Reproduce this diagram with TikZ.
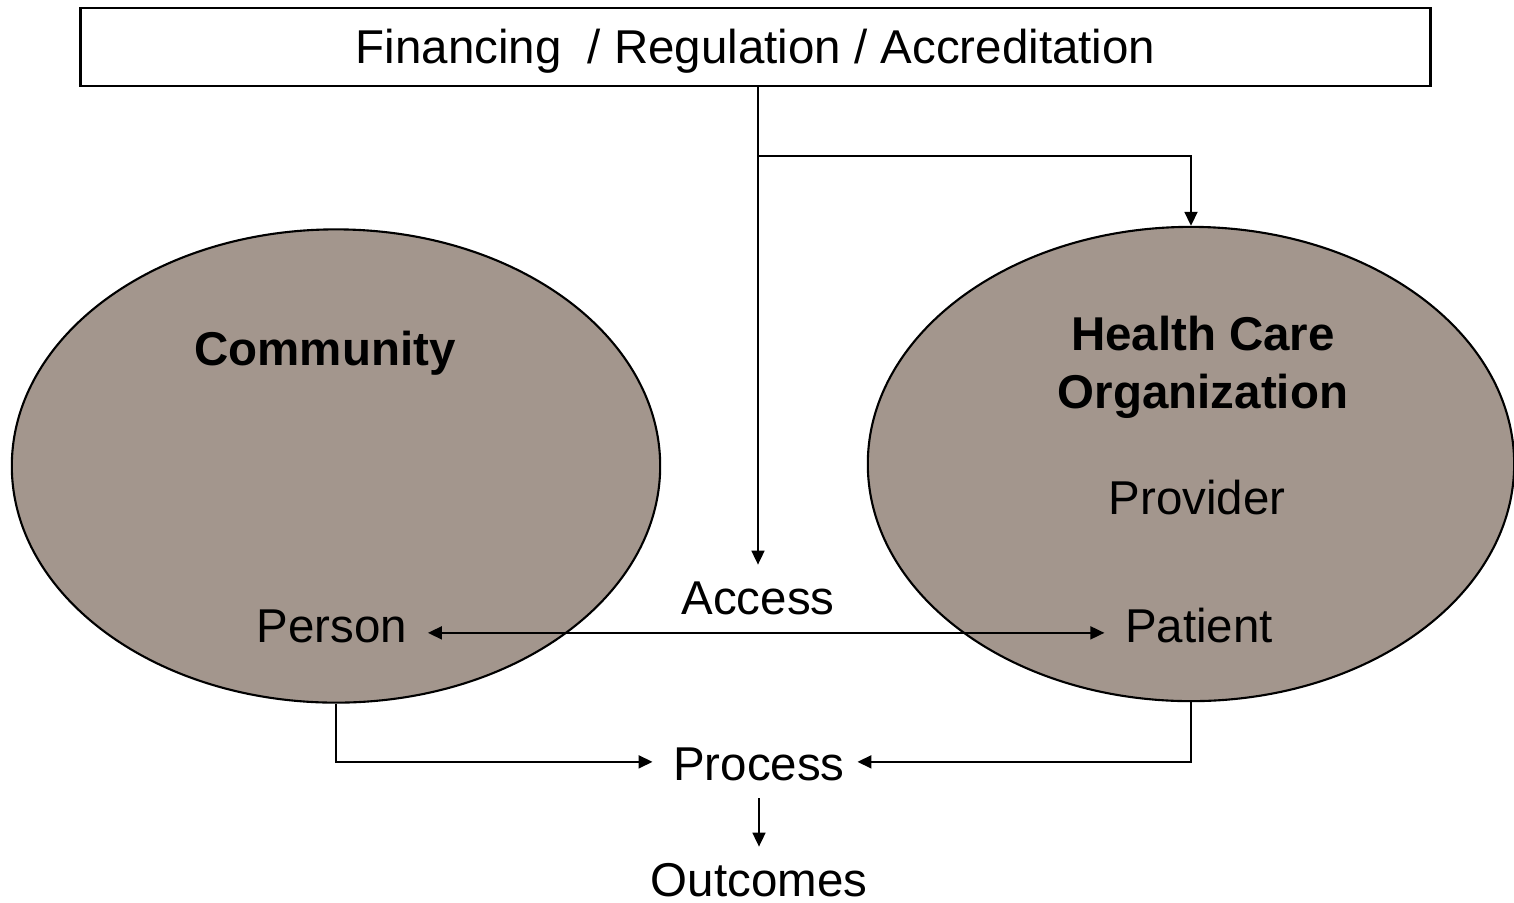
\documentclass[tikz,border=0pt]{standalone}
\usepackage{fontspec}
\setmainfont{Liberation Sans}
\usetikzlibrary{shapes.geometric,arrows.meta}
\definecolor{ovalfill}{RGB}{163,150,141}
\tikzset{
  lbl/.style={anchor=base,inner xsep=0.2cm,inner ysep=0.1cm,text height=0.73em,text depth=0.21em},
  oval/.style={ellipse,draw,fill=ovalfill,line width=0.6pt,inner sep=0pt},
  conn/.style={line width=0.5pt},
}
\begin{document}
\begin{tikzpicture}[x=0.01cm,y=-0.01cm,font=\fontsize{13.5}{16.5}\selectfont,
    >={Triangle[length=0.14cm,width=0.13cm]}]
  \useasboundingbox (0,0) rectangle (1514,902);
  \node[oval,minimum width=6.48cm,minimum height=4.73cm] (community) at (336,466) {};
  \node[oval,minimum width=6.46cm,minimum height=4.74cm] (hco) at (1191,464) {};
  \node[draw,line width=0.8pt,minimum width=13.49cm,minimum height=0.78cm,inner ysep=0pt,
    text height=1.13em,text depth=0.21em] (frb) at (755.5,47) {Financing\ \ / Regulation / Accreditation};
  \node[lbl,font=\fontsize{13.5}{16.5}\selectfont\bfseries] (commname) at (325,365) {Community};
  \node[anchor=base,align=center,inner sep=0pt,font=\fontsize{13.5}{16.45}\selectfont\bfseries] (hconame) at (1203,408) {Health Care\\Organization};
  \node[lbl] (provider) at (1197,514) {Provider};
  \node[lbl] (patient) at (1199,642) {Patient};
  \node[lbl] (person) at (332,642) {Person};
  \node[lbl] (access) at (758,614) {Access};
  \node[lbl] (process) at (759,780) {Process};
  \node[lbl] (outcomes) at (759,896) {Outcomes};
  \coordinate (split) at (758,156);
  \draw[conn] (frb.south -| split) -- (split);
  \draw[conn,->,shorten >=0.13cm] (split) -- (access.north);
  \draw[conn,->] (split) -| (hco.north);
  \draw[conn,<->] (person.east) -- (patient.west);
  \draw[conn,->] (community.south) |- ([yshift=0.09cm]process.west);
  \draw[conn,->,shorten >=-0.08cm] (hco.south) |- ([yshift=0.09cm]process.east);
  \draw[conn,->,shorten >=0.13cm] (process) -- (outcomes);
\end{tikzpicture}
\end{document}
